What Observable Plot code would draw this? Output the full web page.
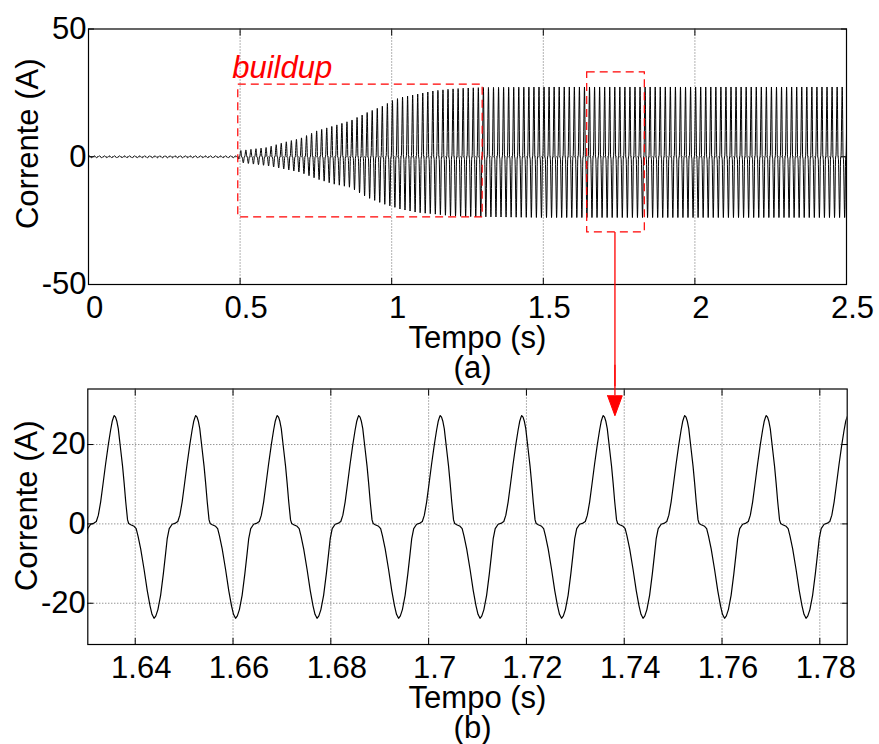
<!DOCTYPE html>
<html><head><meta charset="utf-8">
<script src="https://cdn.jsdelivr.net/npm/d3@7"></script>
<script src="https://cdn.jsdelivr.net/npm/@observablehq/plot@0.6"></script>
<style>
html,body{margin:0;padding:0;background:#fff;}
#chart{width:879px;height:744px;overflow:hidden;}
#chart svg{display:block;}
</style></head><body><div id="chart"></div>
<script>
// One steady-state cycle: phase (degrees after the positive peak) and current (A)
const cyclePhaseDeg = [0,6,12,18,23,29,37,44,51,59,64,73,88,97,105,117,132,146,158,167,176,184,193,205,217,227,234,243,256,271,281,290,300,310,322,334,344,351,357];
const cycleCurrent  = [27.3,26.9,25.8,24.0,21.5,18.5,14.5,10.2,5.5,1.0,0.1,-0.2,-0.6,-1.2,-3.0,-6.3,-11.5,-16.8,-20.6,-22.8,-23.8,-23.2,-21.6,-18.0,-12.6,-7.5,-3.8,-1.2,-0.1,0.2,0.6,2.2,5.5,9.8,15.1,20.0,23.6,25.8,26.9];
const frequencyHz = 60;
const peakTime = 1.6357;
// Envelope: time (s), upper peak (A), lower peak magnitude (A)
const envTime = [0,0.495,0.496,0.589,0.644,0.699,0.754,0.809,0.864,0.919,0.974,1.0,1.029,1.084,1.139,1.194,1.249,1.304,1.5,2.5];
const envUpper = [0.4,0.4,2.35,3.65,5.6,7.2,10.2,12.1,14.1,17.3,20.0,21.9,23.2,24.5,25.8,26.5,26.9,27.1,27.3,27.3];
const envLower = [0.4,0.4,2.2,3.5,4.8,6.1,8.7,10.7,12.0,15.9,18.5,19.4,20.5,21.8,22.4,23.1,23.4,23.5,23.8,23.8];

// Axes
const topXDomain = [0, 2.5], topYDomain = [-50, 50];
const topXTicks = [0, 0.5, 1, 1.5, 2, 2.5], topYTicks = [-50, 0, 50];
const botXDomain = [1.6303, 1.7856], botYDomain = [-30.4, 34];
const botXTicks = [1.64, 1.66, 1.68, 1.7, 1.72, 1.74, 1.76, 1.78], botYTicks = [-20, 0, 20];

// Annotations
const buildupBox = [{x1: 0.494, x2: 1.30, y1: -23.7, y2: 28.2}];
const buildupLabel = [{x: 0.474, y: 34.8, text: "buildup"}];
const zoomBox = [{x1: 1.6448, x2: 1.8348, y1: -29.6, y2: 33.0}];
const arrowTop = [{x: 1.7363, y1: -29.6, y2: -90}];
const arrowBottom = [{x: 1.7381, y1: 40, y2: 32.3}];
const arrowHead = [{x: 1.7366, y: 32.3}, {x: 1.7396, y: 32.3}, {x: 1.7381, y: 27.25}, {x: 1.7366, y: 32.3}];

function interp(xs, ys, x) {
  const i = d3.bisectRight(xs, x);
  if (i <= 0) return ys[0];
  if (i >= xs.length) return ys[ys.length - 1];
  const a = (x - xs[i - 1]) / (xs[i] - xs[i - 1]);
  return ys[i - 1] + a * (ys[i] - ys[i - 1]);
}
const peakPos = d3.max(cycleCurrent), peakNeg = -d3.min(cycleCurrent);
const series = [];
const k0 = Math.floor((topXDomain[0] - peakTime) * frequencyHz) - 1;
const k1 = Math.ceil((topXDomain[1] - peakTime) * frequencyHz) + 1;
for (let k = k0; k <= k1; k++) {
  for (let j = 0; j < cyclePhaseDeg.length; j++) {
    const t = peakTime + (k + cyclePhaseDeg[j] / 360) / frequencyHz;
    if (t < -0.02 || t > 2.52) continue;
    const s = cycleCurrent[j];
    const v = s >= 0 ? s * interp(envTime, envUpper, t) / peakPos : s * interp(envTime, envLower, t) / peakNeg;
    series.push({t, v});
  }
}
const zoomSeries = series.filter(d => d.t > botXDomain[0] - 0.01 && d.t < botXDomain[1] + 0.01);

const FONT = "'Liberation Sans', Arial, Helvetica, sans-serif";
const fmt = d => String(d);
const gridStyle = {stroke: "#000", strokeOpacity: 0.6, strokeDasharray: "1,2", strokeWidth: 1};

function panelAxes(xTicks, yTicks) {
  return [
    Plot.axisX(xTicks, {anchor: "bottom", tickSize: 0, tickPadding: 11, dx: 6, tickFormat: fmt, label: null}),
    Plot.axisX(xTicks, {anchor: "bottom", tickSize: -6, tickFormat: () => "", label: null}),
    Plot.axisX(xTicks, {anchor: "top", tickSize: -6, tickFormat: () => "", label: null}),
    Plot.axisY(yTicks, {anchor: "left", tickSize: 0, tickPadding: 2, tickFormat: fmt, label: null}),
    Plot.axisY(yTicks, {anchor: "left", tickSize: -6, tickFormat: () => "", label: null}),
    Plot.axisY(yTicks, {anchor: "right", tickSize: -6, tickFormat: () => "", label: null}),
    Plot.frame({stroke: "black", strokeWidth: 1.2})
  ];
}

const topPanel = Plot.plot({
  width: 879, height: 372,
  marginLeft: 88, marginRight: 33, marginTop: 28.5, marginBottom: 88,
  style: {fontFamily: FONT, fontSize: "31px", background: "white", color: "black", overflow: "visible"},
  x: {domain: topXDomain, label: null},
  y: {domain: topYDomain, label: null},
  marks: [
    Plot.gridX(topXTicks.slice(1, -1), gridStyle),
    Plot.gridY([0], gridStyle),
    Plot.line(series, {x: "t", y: "v", stroke: "black", strokeWidth: 1, clip: true}),
    ...panelAxes(topXTicks, topYTicks),
    Plot.rect(buildupBox, {x1: "x1", x2: "x2", y1: "y1", y2: "y2", fill: "none", stroke: "#ff0000", strokeWidth: 1.2, strokeDasharray: "8,5"}),
    Plot.rect(zoomBox, {x1: "x1", x2: "x2", y1: "y1", y2: "y2", fill: "none", stroke: "#ff0000", strokeWidth: 1.2, strokeDasharray: "8,5"}),
    Plot.text(buildupLabel, {x: "x", y: "y", text: "text", textAnchor: "start", fill: "#ff0000", fontStyle: "italic", fontSize: 31}),
    Plot.ruleX(arrowTop, {x: "x", y1: "y1", y2: "y2", stroke: "#ff0000", strokeWidth: 1.3}),
    Plot.text(["Corrente (A)"], {frameAnchor: "left", rotate: -90, dx: -60, dy: -13, textAnchor: "middle"}),
    Plot.text(["Tempo (s)"], {frameAnchor: "bottom", lineAnchor: "top", dy: 41, dx: 10}),
    Plot.text(["(a)"], {frameAnchor: "bottom", lineAnchor: "top", dy: 71, dx: 5})
  ]
});

const bottomPanel = Plot.plot({
  width: 879, height: 372,
  marginLeft: 87.3, marginRight: 32.3, marginTop: 16.5, marginBottom: 100,
  style: {fontFamily: FONT, fontSize: "31px", background: "white", color: "black", overflow: "visible"},
  x: {domain: botXDomain, label: null},
  y: {domain: botYDomain, label: null},
  marks: [
    Plot.gridX(botXTicks, gridStyle),
    Plot.gridY(botYTicks, gridStyle),
    Plot.line(zoomSeries, {x: "t", y: "v", stroke: "black", strokeWidth: 1.2, clip: true}),
    ...panelAxes(botXTicks, botYTicks),
    Plot.ruleX(arrowBottom, {x: "x", y1: "y1", y2: "y2", stroke: "#ff0000", strokeWidth: 1.3}),
    Plot.line(arrowHead, {x: "x", y: "y", fill: "#ff0000", stroke: "#ff0000", strokeWidth: 1}),
    Plot.text(["Corrente (A)"], {frameAnchor: "left", rotate: -90, dx: -61, dy: -11, textAnchor: "middle"}),
    Plot.text(["Tempo (s)"], {frameAnchor: "bottom", lineAnchor: "top", dy: 41, dx: 10}),
    Plot.text(["(b)"], {frameAnchor: "bottom", lineAnchor: "top", dy: 71, dx: 5})
  ]
});

const el = document.getElementById("chart");
el.appendChild(topPanel);
el.appendChild(bottomPanel);
</script></body></html>
